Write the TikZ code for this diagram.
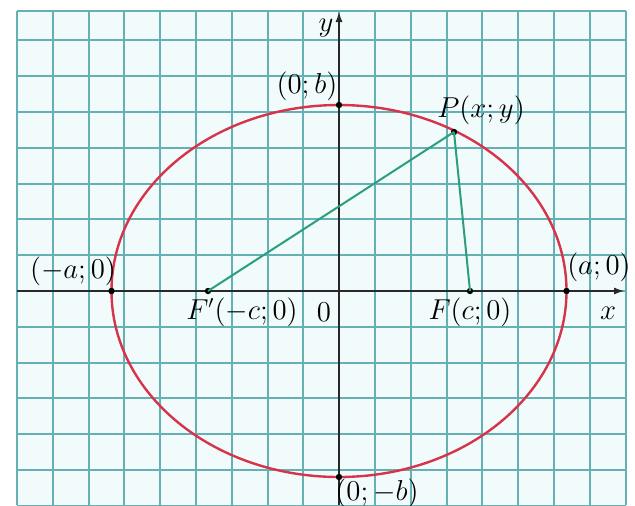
\documentclass[tikz,border=0pt]{standalone}
\usetikzlibrary{arrows.meta}
\definecolor{gridc}{RGB}{100,176,178}
\definecolor{bgc}{RGB}{242,251,251}
\definecolor{ellc}{RGB}{214,52,74}
\definecolor{segc}{RGB}{42,160,122}
\definecolor{axc}{RGB}{40,40,40}
\begin{document}
\begin{tikzpicture}[x=0.5pt,y=-0.5pt,
  gridline/.style={draw=gridc,line width=1pt},
  axis/.style={draw=axc,line width=0.6pt,-{Latex[length=5pt,width=3.5pt]}},
  ell/.style={draw=ellc,line width=1.2pt},
  seg/.style={draw=segc,line width=1pt},
  pt/.style={circle,fill=black,inner sep=0pt,minimum size=3.2pt},
  lab/.style={inner sep=1pt,font=\fontsize{13.5}{15}\selectfont}]
\useasboundingbox (0,0) rectangle (635,505);
\fill[white] (0,0) rectangle (635,505);
\fill[bgc] (17,11) rectangle (625.6,505);
% grid
\foreach \k in {0,...,17} {\draw[gridline] ({17+35.8*\k},11) -- ({17+35.8*\k},505);}
\foreach \k in {-7,...,6} {\draw[gridline] (17,{291+35.8*\k}) -- (625.6,{291+35.8*\k});}
\draw[gridline] (17,11) -- (625.6,11);
% axes
\coordinate (O) at (339,291);
\coordinate (xs) at (17,291);
\coordinate (xe) at (624,291);
\coordinate (ys) at (339,505);
\coordinate (ye) at (339,12);
\draw[axis] (xs) -- (xe);
\draw[axis] (ys) -- (ye);
% ellipse
\draw[ell] (O) ellipse [x radius=227.5, y radius=186];
% points
\node[pt] (A1) at (111.5,291) {};
\node[pt] (A2) at (566.5,291) {};
\node[pt] (B1) at (339,105) {};
\node[pt] (B2) at (339,477) {};
\node[pt] (F1) at (208,291) {};
\node[pt] (F2) at (470,291) {};
\node[pt] (P) at (454,132) {};
% segments
\draw[seg] (F1.center) -- (P.center);
\draw[seg] (F2.center) -- (P.center);
% labels
\node[lab] (ly) at (326,28) {$y$};
\node[lab] (lx) at (608,313) {$x$};
\node[lab] (lB1) at (307,86) {$(0;b)$};
\node[lab] (lP) at (481,110) {$P(x;y)$};
\node[lab] (lA1) at (73,271) {$(-a;0)$};
\node[lab] (lA2) at (599,267) {$(a;0)$};
\node[lab] (lF1) at (242,312) {$F'(-c;0)$};
\node[lab] (lO) at (324,312) {$0$};
\node[lab] (lF2) at (470,312) {$F(c;0)$};
\node[lab] (lB2) at (377,493) {$(0;-b)$};
\end{tikzpicture}
\end{document}
